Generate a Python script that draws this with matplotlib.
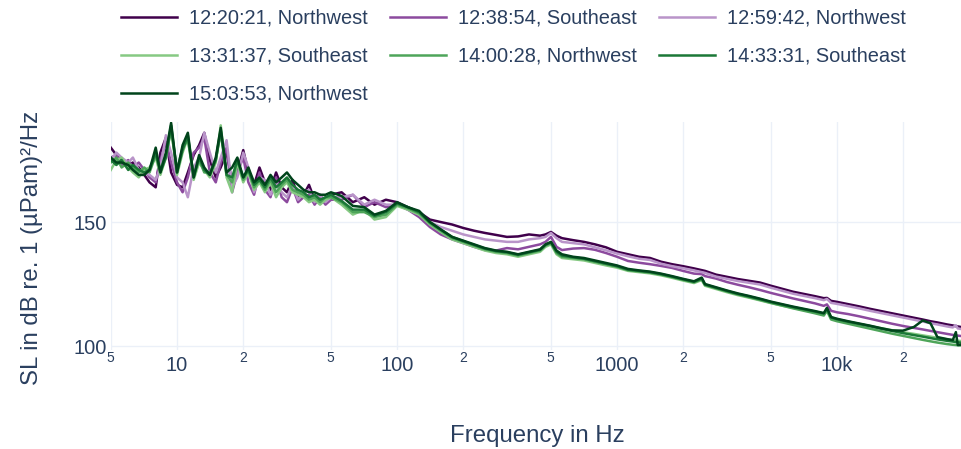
# Importación de bibliotecas necesarias
import matplotlib.pyplot as plt  # Biblioteca para la generación de gráficos

# Frecuencias (Hz) comunes a todas las series
freq = [5.0, 5.3, 5.6, 6.0, 6.3, 6.7, 7.1, 7.5, 8.0, 8.4, 8.9, 9.4, 10.0, 10.6, 11.2, 11.9, 12.6, 13.3, 14.1, 15.0,
        15.8, 16.8, 17.8, 18.8, 20.0, 21.1, 22.4, 23.7, 25.1, 26.6, 28.2, 29.9, 31.6, 33.5, 35.5, 37.6, 39.8, 42.2,
        44.7, 47.3, 50.1,
        56, 63, 71, 79, 89, 100, 112, 126, 141, 158, 178, 200, 224, 251, 282, 316, 355, 398, 447, 473, 501, 531,
        562, 631, 708, 794, 891,
        1000, 1122, 1259, 1413, 1585, 1778, 1995, 2239, 2427, 2512, 2818, 3162, 3548, 3981, 4467, 5012, 5623, 6310,
        7079, 7943, 8710, 9000, 9400, 10000, 11220, 12590, 14130, 15850, 17780, 19950, 22390, 24500, 26600, 28600,
        31620, 33600, 34700, 35400, 37000]

# Niveles de la fuente (dB re. 1 µPa² m²/Hz) para cada medición
sl_122021 = [180, 177, 175, 173, 174, 172, 169, 166, 164, 178, 184, 170, 165, 164, 170, 177, 181, 186, 175, 168,
             172, 178, 166, 170, 179, 170, 165, 172, 166, 163, 170, 164, 162, 167, 160, 161, 165, 159, 161, 158, 161,
             162, 158, 160, 157, 159, 158, 156, 154, 151, 150, 149, 147.6, 146.5, 145.6, 144.8, 144, 144.2, 145,
             144.5, 145, 146, 144.5, 143.5, 142.7, 142, 141, 139.8,
             138, 137, 136, 135.5, 134, 133, 132.2, 131.3, 130.6, 130.3, 128.8, 127.9, 127, 126.3, 125.6, 124.3,
             123.1, 121.9, 121, 120.1, 119.3, 119.4, 118.2, 117.8, 116.9, 116, 115, 114.1, 113.2, 112.3, 111.4,
             110.7, 110, 109.5, 108.7, 108.3, 108, 107.9, 107.6]
sl_123854 = [176, 177, 173, 175, 172, 174, 171, 168, 166, 175, 182, 174, 166, 162, 168, 178, 180, 184, 170, 166,
             174, 180, 162, 170, 176, 166, 161, 170, 163, 160, 168, 160, 158, 164, 158, 160, 161, 157, 160, 157, 159,
             159, 161, 156, 158, 156, 157, 155, 152, 148, 145, 143, 141.5, 140, 138.7, 138.5, 139.5, 139, 140, 141,
             142, 144, 140, 138.7, 139.3, 139.5, 138.8, 137.5,
             136, 134.3, 133.6, 133, 132.3, 131.5, 130.3, 129.2, 129, 128.2, 127.2, 125.8, 124.7, 123.7, 122.6,
             121.4, 120.3, 119.2, 118.2, 117.2, 116.2, 116.8, 114.2, 113.6, 112.9, 112, 111, 110, 109, 108.1, 107.3,
             106.7, 106.1, 105.6, 104.9, 104.5, 104.3, 104.2, 104]
sl_125942 = [175, 178, 176, 174, 176, 171, 170, 169, 167, 172, 185, 178, 168, 166, 160, 172, 176, 186, 178, 170,
             176, 183, 164, 168, 178, 172, 162, 168, 167, 161, 166, 162, 160, 165, 159, 162, 163, 158, 161, 158, 160,
             160, 161, 157, 159, 157, 157, 155, 153, 150, 148, 146.5, 145, 144, 143, 142.5, 142, 142, 143, 143.5,
             144, 145.6, 143.5, 142, 141.5, 141, 139.8, 138.6,
             137.3, 136.2, 135.2, 134.7, 133.2, 132.2, 131.4, 130.5, 129.8, 129.5, 128, 127.1, 126.2, 125.5, 124.8,
             123.5, 122.3, 121.1, 120.2, 119.3, 118.5, 119, 117.4, 117, 116.1, 115.2, 114.2, 113.3, 112.4, 111.5,
             110.6, 109.9, 109.2, 108.7, 107.9, 107.5, 108.4, 107.1, 106.8]
sl_133137 = [171, 175, 176, 172, 170, 168, 171, 172, 176, 169, 176, 188, 169, 178, 184, 167, 174, 171, 168, 174,
             189, 168, 162, 174, 166, 170, 163, 166, 162, 166, 160, 164, 166, 162, 161, 160, 158, 159, 157, 159, 160,
             157, 153, 155, 151, 152, 156.5, 155, 153, 149, 146, 143, 141.5, 140, 138.5, 137.5, 137, 136, 137, 138,
             140, 141, 137, 135.5, 135, 134.5, 133.5, 132.5,
             131.6, 130.3, 129.8, 129.3, 128.5, 127.5, 126.4, 125.4, 126.6, 124.3, 123, 121.7, 120.5, 119.5, 118.4,
             117.3, 116.3, 115.4, 114.5, 113.6, 112.8, 114.6, 111.3, 110.7, 109.8, 108.9, 108.1, 107.2, 106.4, 105.6,
             104.9, 104.3, 103.8, 103.3, 102.7, 102.4, 102.2, 102.1, 102]
sl_140028 = [174, 176, 172, 174, 172, 170, 172, 170, 177, 171, 177, 187, 171, 180, 183, 169, 175, 170, 170, 175,
             186, 169, 166, 175, 167, 171, 164, 167, 163, 167, 162, 165, 167, 163, 162, 161, 159, 160, 158, 160, 160,
             158, 154, 154, 152, 153, 157, 155.5, 153.5, 149.5, 146.5, 143.5, 142, 140.5, 139, 138, 137.5, 136.5,
             137.5, 138.5, 140.5, 141.5, 137.5, 136, 135.5, 135, 134, 133,
             132, 130.6, 130.1, 129.6, 128.8, 127.8, 126.7, 125.7, 126.9, 124.6, 123.3, 122, 120.8, 119.7, 118.6,
             117.4, 116.3, 115.2, 114.2, 113.2, 112.3, 114.2, 110.7, 110, 109, 108, 107, 106, 105, 104.1, 103.2,
             102.5, 101.9, 101.4, 100.8, 100.5, 100.4, 100.3, 100.2]
sl_143331 = [175, 173, 175, 171, 173, 171, 170, 171, 178, 170, 176, 189, 170, 179, 185, 168, 176, 171, 169, 175,
             187, 169, 168, 175, 168, 171, 165, 167, 164, 168, 164, 166, 168, 165, 163, 162, 160, 161, 159, 160, 161,
             158.5, 155, 155, 152.5, 154, 157.5, 156, 154, 150, 147, 144, 142.3, 140.8, 139.3, 138.3, 137.8, 136.8,
             137.8, 138.8, 140.8, 141.8, 138, 136.5, 135.8, 135.2, 134.2, 133.2,
             132.2, 130.8, 130.3, 129.8, 129, 128, 126.9, 125.9, 127.2, 124.8, 123.5, 122.2, 121, 120, 118.9, 117.7,
             116.7, 115.7, 114.8, 113.9, 113.1, 115, 111.5, 110.8, 109.8, 108.9, 108, 107, 106.1, 105.2, 104.4,
             103.8, 103.2, 102.7, 102.1, 101.8, 101.6, 101.5, 101.3]
sl_150353 = [176, 174, 174, 173, 171, 169, 169, 171, 180, 170, 178, 190, 170, 181, 186, 168, 177, 172, 169, 176,
             188, 170, 172, 176, 168, 172, 166, 168, 165, 169, 166, 168, 170, 167, 165, 163, 162, 162, 161, 161, 162,
             160.5, 156.5, 156, 153, 154.5, 158, 156, 154.5, 150, 147, 144, 142.5, 141, 139.5, 138.5, 138, 137, 138,
             139, 141, 142, 138.5, 137, 136, 135.5, 134.5, 133.5,
             132.5, 131.1, 130.5, 130, 129.2, 128.2, 127.1, 126.1, 127.6, 125, 123.7, 122.4, 121.2, 120.2, 119.1,
             117.9, 116.9, 115.9, 115, 114.1, 113.3, 115.4, 111.7, 111, 110, 109.1, 108.2, 107.2, 106.3, 106.2,
             107.7, 110.3, 109.2, 103.6, 102.8, 102.4, 105.6, 100.4, 100.6]

series = [sl_122021, sl_123854, sl_125942, sl_133137, sl_140028, sl_143331, sl_150353]
labels = ['12:20:21, Northwest', '12:38:54, Southeast', '12:59:42, Northwest', '13:31:37, Southeast',
          '14:00:28, Northwest', '14:33:31, Southeast', '15:03:53, Northwest']
colors = ['#40004b', '#8c4a9e', '#b994c9', '#86c983', '#4ea55a', '#1b7837', '#00441b']

# Marcas del eje x (estilo logarítmico con dígitos pequeños 2 y 5)
major_ticks = [10, 100, 1000, 10000]
major_labels = ['10', '100', '1000', '10k']
minor_ticks = [5, 20, 50, 200, 500, 2000, 5000, 20000]
minor_labels = ['5', '2', '5', '2', '5', '2', '5', '2']

TEXT = '#2a3f5f'
GRID = '#EBF0F8'


def plot_source_level():
    plt.rcParams['font.family'] = ['Liberation Sans', 'DejaVu Sans']

    fig = plt.figure(figsize=(9.62, 4.49), dpi=100)
    W, H = 962, 449
    # Área del gráfico en píxeles: x de 111 a 962, y de 122 a 350
    ax = fig.add_axes([110.8 / W, 1 - 350 / H, (962 - 110.8) / W, (350 - 121.6) / H])

    # Dibujar cada serie
    handles = []
    for vals, lab, col in zip(series, labels, colors):
        h, = ax.plot(freq, vals, color=col, lw=1.8, label=lab)
        handles.append(h)

    ax.set_xscale('log')
    ax.set_xlim(5, 37000)
    ax.set_ylim(98.4, 190.5)

    ax.set_xticks(major_ticks, major_labels)
    ax.set_xticks(minor_ticks, minor_labels, minor=True)
    ax.set_yticks([100, 150])
    ax.tick_params(axis='x', which='major', length=0, pad=4, labelsize=14.4, labelcolor=TEXT)
    ax.tick_params(axis='x', which='minor', length=0, pad=0.5, labelsize=10, labelcolor=TEXT)
    ax.tick_params(axis='y', length=0, pad=3, labelsize=14.4, labelcolor=TEXT)

    # Cuadrícula
    ax.grid(True, which='both', axis='x', color=GRID, lw=1)
    ax.grid(True, which='major', axis='y', color=GRID, lw=1)
    ax.set_axisbelow(True)
    for sp in ax.spines.values():
        sp.set_visible(False)

    # Títulos de los ejes
    fig.text(537 / W, 1 - 436 / H, 'Frequency in Hz', ha='center', va='center', fontsize=17.3, color=TEXT)
    fig.text(32 / W, 1 - 248 / H, 'SL in dB re. 1 (µPam)²/Hz', ha='center', va='center',
             rotation=90, fontsize=17.3, color=TEXT)

    # Leyenda en tres columnas, ordenada por filas como en el original
    order = [0, 3, 6, 1, 4, 2, 5]
    fig.legend([handles[i] for i in order], [labels[i] for i in order], ncol=3,
               loc='upper left', bbox_to_anchor=(121 / W, 1 - 9 / H), frameon=False,
               fontsize=14.4, labelcolor=TEXT, handlelength=2.8, handletextpad=0.6,
               columnspacing=1.1, labelspacing=0.95, borderpad=0, borderaxespad=0)

    fig.savefig('out.png', dpi=100)


if __name__ == "__main__":
    plot_source_level()
